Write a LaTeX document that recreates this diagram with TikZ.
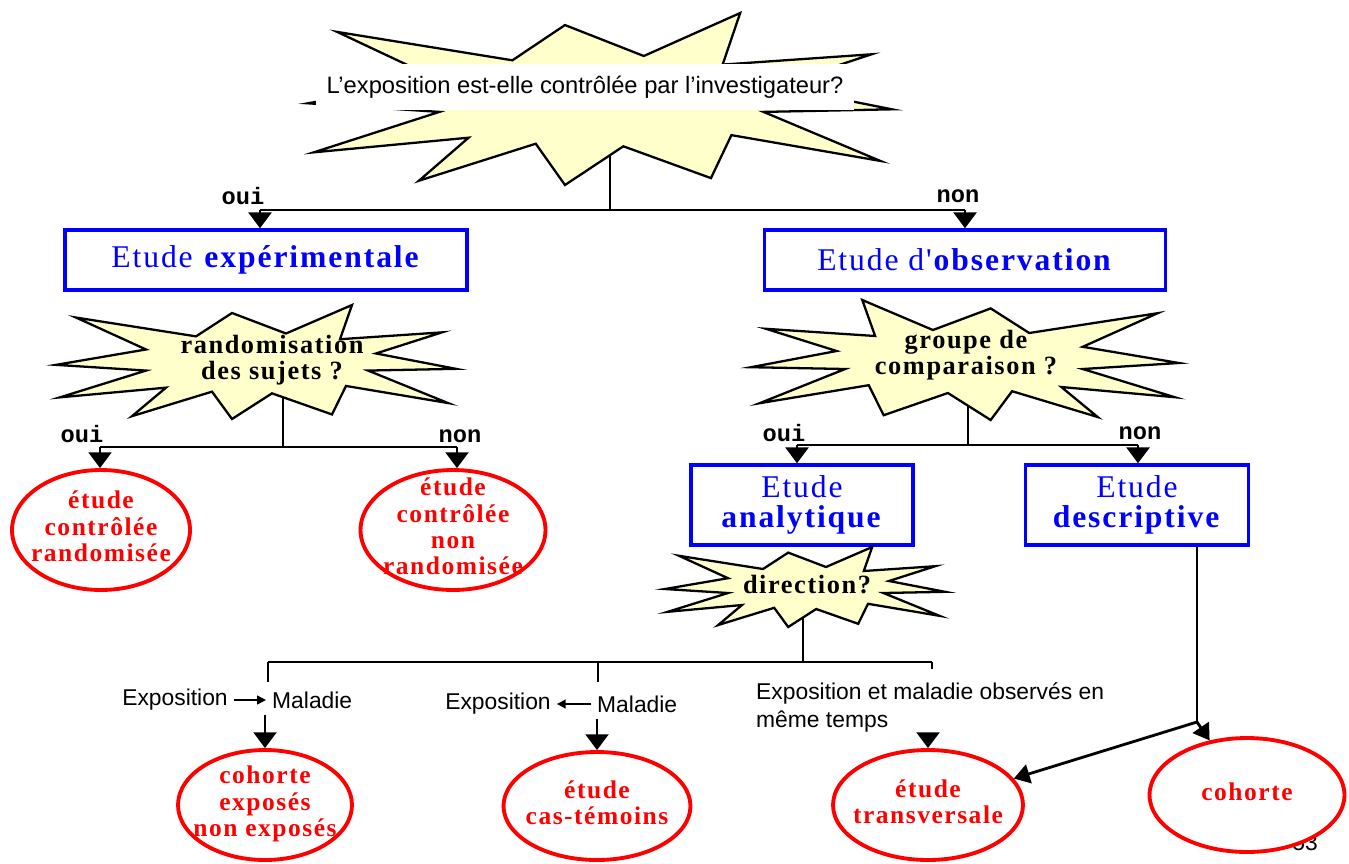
\documentclass[tikz,border=0pt]{standalone}
\usepackage{fontspec}
\setmainfont{Liberation Serif}
\newfontfamily\arialf{Liberation Sans}
\newfontfamily\monof{Liberation Mono}
\newfontfamily\bmpf[LetterSpace=6]{Liberation Serif}
\usetikzlibrary{shapes.geometric,arrows.meta,backgrounds}

\definecolor{burstyellow}{RGB}{255,255,204}
\definecolor{boxblue}{RGB}{0,0,255}
\definecolor{ovalred}{RGB}{255,0,0}

% text that does not change the size of its shape
\newcommand{\ovtxt}[1]{\smash{\makebox[0pt]{\raisebox{-0.25em}{\begin{tabular}{@{}c@{}}#1\end{tabular}}}}}

\tikzset{
  burstline/.style={draw=black, line width=1.3pt, fill=burstyellow},
  burstshape/.pic={
    \path[burstline] (-1,0.05) -- (-0.55,0.15) -- (-0.98,0.62) -- (-0.45,0.45) -- (-0.62,0.95)
      -- (-0.22,0.52) -- (-0.12,1) -- (0.08,0.55) -- (0.38,0.92) -- (0.45,0.42) -- (0.96,0.72)
      -- (0.56,0.15) -- (1,0.12) -- (0.6,-0.15) -- (0.93,-0.52) -- (0.42,-0.4) -- (0.48,-1)
      -- (0.15,-0.5) -- (-0.12,-0.86) -- (-0.3,-0.45) -- (-0.9,-0.78) -- (-0.55,-0.22) -- cycle;
  },
  bursttext/.style={inner sep=1pt, align=center, font=\bmpf\bfseries\fontsize{15}{15}\selectfont},
  bluebox/.style={draw=boxblue, line width=2pt, text=boxblue, inner sep=0pt, align=center,
    font=\bmpf\fontsize{18}{17}\selectfont},
  redoval/.style={ellipse, draw=ovalred, line width=2.2pt, fill=white, text=ovalred, inner sep=0pt,
    font=\bmpf\bfseries\fontsize{14.5}{15}\selectfont},
  yesno/.style={font=\monof\bfseries\fontsize{13.5}{15}\selectfont},
  plain/.style={font=\arialf\fontsize{13}{16}\selectfont},
  link/.style={line width=1.4pt},
  bigarrow/.style={line width=1.6pt, -{Triangle[width=13pt,length=9pt]}},
  midarrow/.style={line width=1.6pt, -{Triangle[width=11pt,length=9pt]}},
  smallarrow/.style={line width=0.9pt, -{Triangle[width=5pt,length=5pt]}}
}

\begin{document}
\begin{tikzpicture}[x=0.02cm, y=-0.02cm]
\useasboundingbox (0,0) rectangle (1349,863);

% question 1
\pic[xscale=292, yscale=86] at (600,99) {burstshape};
\node[fill=white, font=\arialf\fontsize{13.5}{16}\selectfont, inner xsep=6pt, inner ysep=7pt] (qexpo) at (585,87) {L’exposition est-elle contrôlée par l’investigateur?};

\coordinate (jq) at (610,210);
\coordinate (jqoui) at (260,210);
\coordinate (jqnon) at (965,210);
\node[yesno] (oui1) at (243,196) {oui};
\node[yesno] (non1) at (958,196) {non};

\node[bluebox, minimum width=8.04cm, minimum height=1.2cm] (expe) at (266,260) {Etude \textbf{expérimentale}};
\node[bluebox, minimum width=8.02cm, minimum height=1.2cm] (obs) at (965,260) {Etude d'\textbf{observation}};

\draw[link] (jqoui) -- (jqnon);
\draw[bigarrow] (jqoui) -- (jqoui |- expe.north);
\draw[bigarrow] (jqnon) -- (jqnon |- obs.north);

% randomisation
\pic[xscale=200, yscale=57] at (256,362) {burstshape};
\node[bursttext] (qrand) at (272,360) {randomisation\\des sujets ?};
\coordinate (jr) at (283,447);
\coordinate (jroui) at (100,447);
\coordinate (jrnon) at (457,447);
\node[yesno] (oui2) at (82,434) {oui};
\node[yesno] (non2) at (460,436) {non};

\node[redoval, minimum width=3.56cm, minimum height=2.4cm] (ovrand) at (101,530) {\ovtxt{étude\\contrôlée\\randomisée}};
\node[redoval, minimum width=3.7cm, minimum height=2.4cm] (ovnonrand) at (453,530) {\ovtxt{étude\\contrôlée\\non\\randomisée}};

\draw[link] (jroui) -- (jrnon);
\draw[bigarrow] (jroui) -- (jroui |- ovrand.north);
\draw[bigarrow] (jrnon) -- (jrnon |- ovnonrand.north);

% groupe de comparaison
\pic[xscale=-214, yscale=60] at (965,360) {burstshape};
\node[bursttext] (qgroupe) at (966,355) {groupe de\\comparaison ?};
\coordinate (jg) at (968,445);
\coordinate (jgoui) at (797,445);
\coordinate (jgnon) at (1138,445);
\node[yesno] (oui3) at (784,433) {oui};
\node[yesno] (non3) at (1140,433) {non};

\node[bluebox, minimum width=4.44cm, minimum height=1.6cm] (analyt) at (802,505) {Etude\\\textbf{analytique}};
\node[bluebox, minimum width=4.46cm, minimum height=1.6cm] (descr) at (1137,505) {Etude\\\textbf{descriptive}};

\draw[link] (jgoui) -- (jgnon);
\draw[bigarrow] (jgoui) -- (jgoui |- analyt.north);
\draw[bigarrow] (jgnon) -- (jgnon |- descr.north);

% direction
\pic[xscale=140, yscale=40] at (805,587) {burstshape};
\node[bursttext] (qdir) at (807,585) {direction?};
\coordinate (jdir) at (803,662);
\coordinate (jdira) at (268,662);
\coordinate (jdirb) at (598,662);
\coordinate (jdirc) at (932,662);
\coordinate (da) at (268,682);
\coordinate (db) at (598,682);
\coordinate (dc) at (932,669);

\node[plain] (expo1) at (175,700) {Exposition};
\node[plain, anchor=west] (mal1) at (266,700) {Maladie};
\node[plain] (expo2) at (498,704) {Exposition};
\node[plain, anchor=west] (mal2) at (591,704) {Maladie};
\node[plain, anchor=north west, align=left] (simult) at (750,676) {Exposition et maladie observés en\\même temps};

\node[plain] (pgnum) at (1305,843) {53};

\node[redoval, minimum width=3.48cm, minimum height=2.2cm] (ovcoh) at (265,805) {\ovtxt{cohorte\\exposés\\non exposés}};
\node[redoval, minimum width=3.74cm, minimum height=2.16cm] (ovcas) at (597,806) {\ovtxt{étude\\cas-témoins}};
\node[redoval, minimum width=3.8cm, minimum height=2.2cm] (ovtrans) at (928,805) {\ovtxt{étude\\transversale}};
\node[redoval, minimum width=3.9cm, minimum height=2.28cm] (ovcoh2) at (1247,795) {\ovtxt{cohorte}};

\draw[link] (jdira) -- (jdirc);
\draw[link] (jdira) -- (da);
\draw[link] (jdirb) -- (db);
\draw[link] (jdirc) -- (dc);
\draw[smallarrow] (expo1) -- (mal1);
\draw[smallarrow] (mal2) -- (expo2);
\draw[bigarrow] (ovcoh.north |- mal1.south) -- (ovcoh.north);
\draw[bigarrow] (ovcas.north |- mal2.south) -- (ovcas.north);
\draw[bigarrow] ([yshift=0.3cm]ovtrans.north) -- (ovtrans.north);

% descriptive
\coordinate (jd) at (1197,722);
\draw[link] (descr.south -| jd) -- (jd);
\draw[midarrow] (jd) -- (ovcoh2);
\draw[midarrow] (jd) -- (ovtrans);

\begin{scope}[on background layer]
\draw[link] (qexpo.center -| jq) -- (jq);
\draw[link] (qrand.center -| jr) -- (jr);
\draw[link] (qgroupe.center -| jg) -- (jg);
\draw[link] (qdir.center -| jdir) -- (jdir);
\end{scope}
\end{tikzpicture}
\end{document}
